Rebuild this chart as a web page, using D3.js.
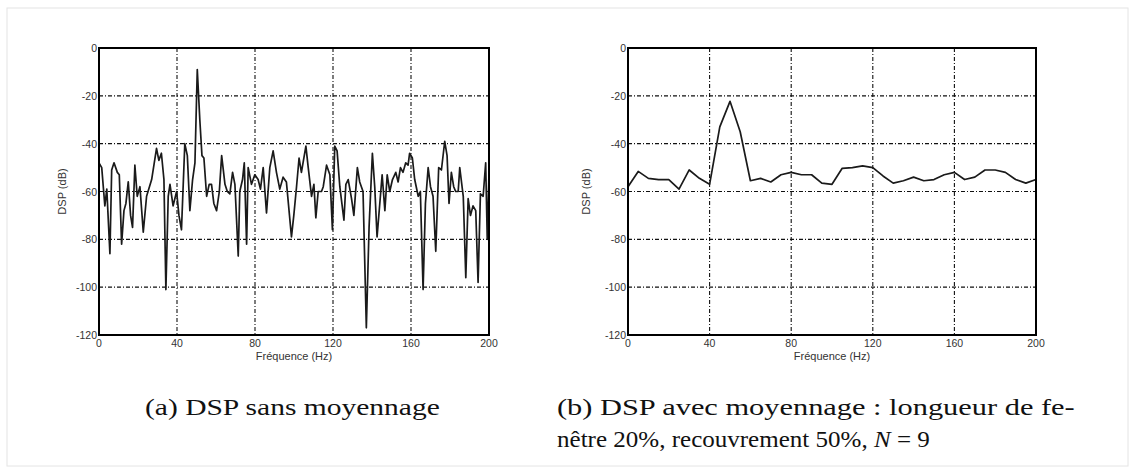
<!DOCTYPE html>
<html lang="fr">
  <head>
    <meta charset="utf-8">
    <script src="https://cdnjs.cloudflare.com/ajax/libs/d3/7.8.5/d3.min.js"></script>
    <style>
      body { margin: 0; background: #fff; }
      .tick-label { font-family: "Liberation Sans", Arial, sans-serif; font-size: 10.5px; fill: #333; }
      .axis-title { font-family: "Liberation Sans", Arial, sans-serif; font-size: 11px; fill: #333; }
      .caption { font-family: "Liberation Serif", "DejaVu Serif", serif; font-size: 23px; fill: #111; }
    </style>
  </head>
  <body>
    <svg id="fig" width="1135" height="473"></svg>
    <script>

      // (a) DSP sans moyennage : frequences (Hz) et niveaux (dB)
      var freqA = [0, 1.4, 3, 4, 5.6, 6.5, 7.7, 9.4, 10.4, 11.6, 12.8, 13.8, 15, 16.2, 17.2, 18.4,
        19.6, 21, 22.7, 24.4, 27, 29.5, 30.7, 32, 33.3, 34.3, 35.5, 36.4, 38, 39.8, 41, 42.3, 44,
        45.3, 46.6, 48, 49.2, 50.4, 51.7, 52.8, 53.8, 55.2, 56.5, 57.7, 58.9, 60.3, 61.7, 62.9,
        64.6, 65.8, 67.1, 68.5, 69.7, 71.4, 72.2, 73.6, 74.5, 75.7, 76.5, 78.2, 79.9, 81.6, 82.8,
        84.2, 85.9, 87.6, 89.3, 91, 92.7, 94.4, 96.1, 98.7, 99.9, 101.3, 102.6, 103.8, 106.1,
        107.3, 109, 110.2, 111.2, 112.4, 114.1, 115, 116.7, 118.4, 119.7, 120.9, 122.1, 123.5,
        125.6, 126.6, 127.8, 129.5, 130.7, 132.5, 133.7, 135.4, 137.1, 138.5, 140.2, 141.4,
        142.6, 144, 145.2, 146.6, 147.8, 149.1, 150.5, 152.2, 153.4, 154.6, 155.9, 157.3, 158.5,
        159.3, 160.7, 161.9, 163.7, 164.8, 166.2, 167.4, 168.8, 170, 171.3, 172.7, 174.2, 175.6,
        177.3, 178.5, 179.5, 180.7, 181.9, 182.9, 184.2, 185, 186.8, 188.1, 189.3, 190.5, 191.8,
        193.2, 194.4, 195.6, 197, 198.3, 199.1, 200];
      var dspA = [-48, -50, -66, -59, -86, -51, -48, -52, -53, -82, -68, -65, -56, -70, -75, -49,
        -62, -58, -77, -62, -55, -42, -47, -44, -55, -101, -62, -57, -66, -60, -70, -76, -40,
        -45, -68, -55, -48, -9, -30, -45, -46, -62, -57, -57, -65, -68, -60, -45,
        -57, -60, -61, -52, -57, -87, -60, -55, -48, -82, -50, -57, -53, -55, -59,
        -50, -69, -50, -43, -52, -59, -54, -56, -79, -70, -58, -46, -52, -41,
        -50, -62, -57, -71, -60, -60, -58, -49, -53, -76, -41, -43, -58,
        -72, -57, -55, -63, -70, -50, -56, -60, -117, -75, -44, -58,
        -79, -65, -53, -68, -53, -60, -55, -52, -56, -50, -52, -48, -49,
        -44, -46, -55, -62, -60, -101, -65, -50, -58, -62, -85, -50, -51,
        -39, -45, -65, -52, -58, -60, -60, -50, -62, -96, -63, -70, -66,
        -68, -98, -61, -62, -48, -80, -52];

      // (b) DSP avec moyennage : un point tous les 5 Hz
      var freqB = [0, 5, 10, 15, 20, 25, 30, 35, 40, 45, 50, 55, 60, 65, 70, 75, 80, 85, 90, 95,
        100, 105, 110, 115, 120, 125, 130, 135, 140, 145, 150, 155, 160, 165, 170, 175, 180, 185,
        190, 195, 200];
      var dspB = [-58, -51.6, -54.5, -55, -55, -59, -51, -54.5, -57, -33, -22.3, -35, -55.5, -54.5,
        -56, -53, -52, -53, -53, -56.5, -57, -50.3, -50, -49.3, -50, -53.5, -56.5, -55.5, -54,
        -55.5, -55, -53, -52, -55, -54, -51, -51, -52, -55, -56.5, -55];

      var xTicks = [0, 40, 80, 120, 160, 200];
      var yTicks = [0, -20, -40, -60, -80, -100, -120];
      var xTitle = "Fréquence (Hz)",
          yTitle = "DSP (dB)";

      var svg = d3.select("#fig");

      // cadre pale autour de la figure
      svg.append("rect")
        .attr("x", 7).attr("y", 8)
        .attr("width", 1121).attr("height", 458)
        .attr("fill", "none")
        .attr("stroke", "#e4e4e4");

      function panel(box, freq, dsp) {
        var x = d3.scaleLinear().domain([0, 200]).range([box.left, box.right]),
            y = d3.scaleLinear().domain([-120, 0]).range([box.bottom, box.top]);

        var g = svg.append("g");

        // grille en trait mixte
        g.selectAll("line.vgrid")
          .data(xTicks.slice(1, -1))
          .enter().append("line")
            .attr("class", "vgrid")
            .attr("x1", x).attr("x2", x)
            .attr("y1", box.top).attr("y2", box.bottom)
            .attr("stroke", "#111")
            .attr("stroke-width", 1.1)
            .attr("stroke-dasharray", "4,2,1,2");

        g.selectAll("line.hgrid")
          .data(yTicks.slice(1, -1))
          .enter().append("line")
            .attr("class", "hgrid")
            .attr("y1", y).attr("y2", y)
            .attr("x1", box.left).attr("x2", box.right)
            .attr("stroke", "#111")
            .attr("stroke-width", 1.1)
            .attr("stroke-dasharray", "4,2,1,2");

        var line = d3.line()
          .x(function(d, i) { return x(freq[i]); })
          .y(function(d) { return y(d); });

        g.append("path")
          .datum(dsp)
            .attr("d", line)
            .attr("fill", "none")
            .attr("stroke", "#1a1a1a")
            .attr("stroke-width", 1.7)
            .attr("stroke-linejoin", "round");

        g.append("rect")
          .attr("x", box.left).attr("y", box.top)
          .attr("width", box.right - box.left)
          .attr("height", box.bottom - box.top)
          .attr("fill", "none")
          .attr("stroke", "#000")
          .attr("stroke-width", 2);

        g.selectAll("text.xt")
          .data(xTicks)
          .enter().append("text")
            .attr("class", "tick-label xt")
            .attr("x", x)
            .attr("y", box.bottom + 12)
            .attr("text-anchor", "middle")
            .text(function(d) { return d; });

        g.selectAll("text.yt")
          .data(yTicks)
          .enter().append("text")
            .attr("class", "tick-label yt")
            .attr("x", box.left - 2)
            .attr("y", function(d) { return y(d) + 4; })
            .attr("text-anchor", "end")
            .text(function(d) { return d; });

        g.append("text")
          .attr("class", "axis-title")
          .attr("x", (box.left + box.right) / 2)
          .attr("y", box.bottom + 25)
          .attr("text-anchor", "middle")
          .text(xTitle);

        g.append("text")
          .attr("class", "axis-title")
          .attr("transform", "translate(" + (box.left - box.yTitleGap) + "," + ((box.top + box.bottom) / 2) + ") rotate(-90)")
          .attr("text-anchor", "middle")
          .text(yTitle);
      }

      panel({left: 99, right: 489, top: 48, bottom: 335, yTitleGap: 33}, freqA, dspA);
      panel({left: 628, right: 1036, top: 48, bottom: 335, yTitleGap: 38}, freqB, dspB);

      // legendes : chaque ligne est etiree horizontalement a la largeur voulue
      function caption(x0, y0, width, parts) {
        var g = svg.append("g"),
            t = g.append("text").attr("class", "caption").attr("x", 0).attr("y", 0);
        parts.forEach(function(p) {
          t.append("tspan")
            .attr("font-style", p.italic ? "italic" : null)
            .text(p.text);
        });
        var w = t.node().getComputedTextLength();
        g.attr("transform", "translate(" + x0 + "," + y0 + ") scale(" + (width / w) + ",1)");
      }

      caption(145, 415, 295, [{text: "(a) DSP sans moyennage"}]);
      caption(557, 415, 518, [{text: "(b) DSP avec moyennage : longueur de fe-"}]);
      caption(557, 447, 373, [
        {text: "nêtre 20%, recouvrement 50%, "},
        {text: "N", italic: true},
        {text: " = 9"}
      ]);

    </script>
  </body>
</html>
